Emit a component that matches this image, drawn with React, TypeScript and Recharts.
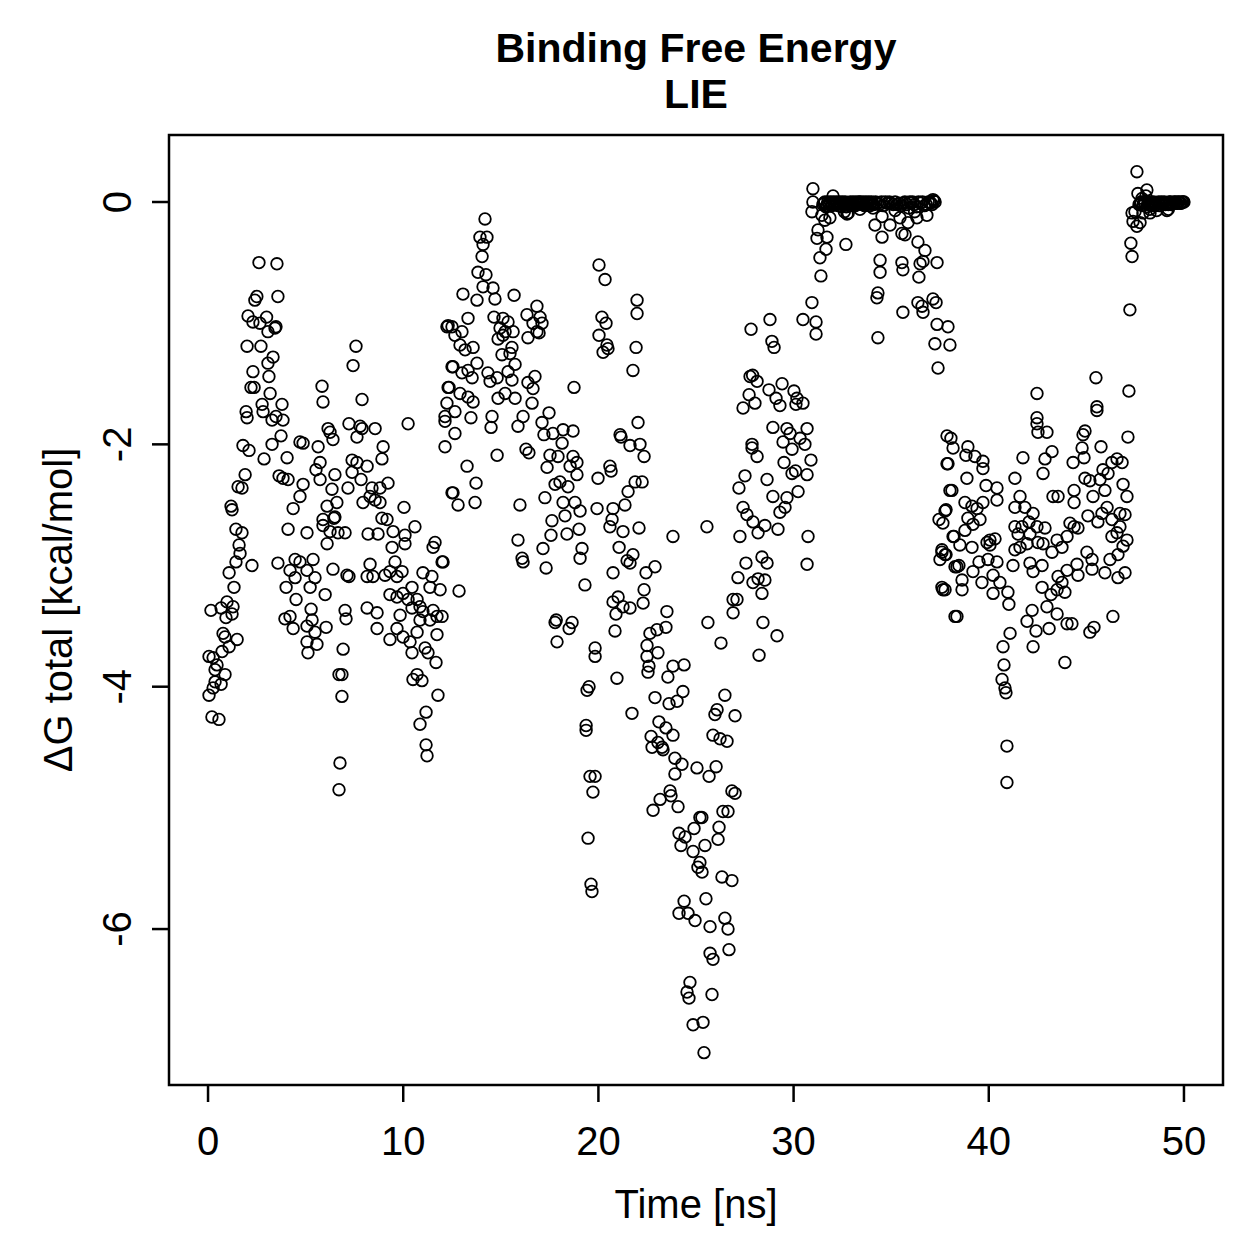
import React from "react";
import { ScatterChart, Scatter, XAxis, YAxis, ReferenceArea } from "recharts";

type Pt = [number, number];

// time [ns], dG total [kcal/mol]
const seg0to12: Pt[] = [
  [0.15,-3.37],[1.23,-2.54],[1.43,-2.7],[1.74,-2.73],[1.59,-2.83],[1.64,-2.9],[1.43,-2.97],[1.08,-3.06],[2.25,-3.0],[1.33,-3.18],
  [0.97,-3.3],[0.67,-3.35],[1.28,-3.34],[1.23,-3.4],[0.92,-3.43],[0.77,-3.56],[0.87,-3.59],[1.49,-3.61],[1.08,-3.67],[0.72,-3.71],
  [0.05,-3.75],[0.26,-3.76],[0.46,-3.82],[0.87,-3.9],[0.36,-3.86],[0.36,-3.96],[0.67,-3.98],[0.26,-4.01],[0.05,-4.07],[0.2,-4.25],[0.56,-4.27],
  [2.61,-0.5],[3.53,-0.51],[2.5,-0.78],[3.58,-0.78],[2.4,-0.81],[2.05,-0.94],[3.0,-0.95],[2.3,-0.99],[2.66,-1.0],[3.43,-1.04],
  [3.07,-1.07],[3.48,-1.03],[2.0,-1.19],[2.71,-1.19],[3.33,-1.28],[3.07,-1.33],[2.3,-1.4],[3.12,-1.44],[2.2,-1.53],[2.36,-1.53],
  [3.18,-1.58],[2.77,-1.67],[3.79,-1.67],[1.95,-1.73],[2.0,-1.78],[2.82,-1.73],[3.28,-1.8],[3.48,-1.77],[3.84,-1.8],[3.74,-1.93],
  [3.28,-2.0],[1.79,-2.01],[2.1,-2.05],[2.87,-2.12],[4.05,-2.11],[1.9,-2.25],[1.54,-2.35],[1.74,-2.36],[1.18,-2.51],[3.64,-2.26],
  [3.84,-2.28],[4.1,-2.29],[4.87,-2.33],[4.71,-2.43],[4.36,-2.53],
  [5.64,-2.02],[5.74,-2.15],[5.53,-2.21],[5.74,-2.29],[6.5,-2.25],[6.35,-2.37],[6.6,-2.48],[6.1,-2.51],[4.71,-1.98],[4.87,-1.99],
  [5.84,-1.52],[5.89,-1.65],[6.15,-1.87],[6.25,-1.9],[6.4,-1.96],[7.58,-1.19],[7.43,-1.35],[7.89,-1.63],[7.22,-1.83],[7.79,-1.85],
  [7.89,-1.87],[7.63,-1.94],[8.56,-1.87],[8.97,-2.02],[8.91,-2.12],[7.38,-2.13],[7.63,-2.15],[8.15,-2.18],[7.38,-2.23],[7.84,-2.29],
  [7.17,-2.36],[9.22,-2.32],[8.4,-2.36],[8.81,-2.36],[8.3,-2.43],[8.56,-2.46],[7.94,-2.48],[8.81,-2.48],[10.04,-2.52],[10.25,-1.83],
  [8.91,-2.61],[9.17,-2.62],[6.5,-2.6],[5.89,-2.62],
  [4.1,-2.7],[5.07,-2.73],[5.89,-2.67],[6.45,-2.61],[6.1,-2.82],[6.25,-2.72],[6.66,-2.73],[7.02,-2.73],[3.58,-2.98],[4.2,-3.04],
  [4.46,-2.95],[4.71,-2.97],[5.38,-2.95],[5.07,-3.04],[4.46,-3.1],[5.48,-3.1],[4.0,-3.18],[5.23,-3.18],[6.4,-3.03],[6.0,-3.24],
  [4.51,-3.28],[7.12,-3.08],[7.22,-3.09],[5.28,-3.36],[7.02,-3.37],[7.07,-3.44],[3.94,-3.44],[4.2,-3.42],[4.36,-3.52],[5.33,-3.45],
  [5.07,-3.5],[5.48,-3.55],[6.05,-3.51],[5.07,-3.63],[5.58,-3.65],[5.12,-3.72],[6.92,-3.69],[6.71,-3.9],[6.86,-3.9],[6.86,-4.08],
  [6.76,-4.63],[6.71,-4.85],
  [8.15,-3.35],[8.66,-3.39],[8.66,-3.52],[8.3,-2.99],[8.2,-2.74],[8.71,-2.74],[9.48,-2.72],[10.09,-2.75],[10.6,-2.68],[10.09,-2.82],
  [9.43,-2.85],[9.58,-2.97],[8.15,-3.09],[8.45,-3.09],[9.07,-3.08],[9.32,-3.05],[9.68,-3.09],[9.94,-3.05],[9.32,-3.24],[9.68,-3.26],
  [9.99,-3.23],[10.45,-3.18],[10.25,-3.28],[10.71,-3.28],[11.01,-3.06],[11.47,-3.09],[11.37,-3.18],[11.63,-2.81],[11.53,-2.85],[11.99,-2.97],
  [12.04,-2.97],[11.89,-3.2],[10.86,-3.34],[10.45,-3.35],[11.01,-3.38],[11.53,-3.37],[11.73,-3.42],[11.99,-3.42],[11.37,-3.45],[10.86,-3.45],
  [9.84,-3.41],[9.32,-3.61],[9.68,-3.52],[9.99,-3.59],[10.35,-3.63],[10.71,-3.55],[10.45,-3.72],[11.12,-3.68],[11.27,-3.72],[11.68,-3.8],
  [11.73,-3.57],[10.71,-3.9],[10.5,-3.94],[10.96,-3.95],[11.78,-4.07],[11.17,-4.21],[10.86,-4.31],[11.17,-4.48],[11.22,-4.57],
];

const seg12to19: Pt[] = [
  [12.24,-1.03],[12.5,-1.03],[12.5,-1.36],[12.3,-1.53],[12.24,-1.66],[12.14,-1.81],[12.14,-2.02],[12.5,-2.4],
  [14.19,-0.14],[13.93,-0.29],[14.29,-0.29],[14.09,-0.35],[14.04,-0.45],[13.83,-0.58],[14.24,-0.6],[14.09,-0.7],[14.6,-0.71],[13.06,-0.76],
  [13.78,-0.81],[14.7,-0.8],[15.68,-0.77],[13.32,-0.96],[14.65,-0.95],[15.11,-0.96],[15.37,-0.99],[16.34,-0.93],[16.85,-0.86],[17.01,-0.95],
  [16.65,-1.0],[17.11,-1.0],[12.3,-1.02],[13.01,-1.07],[12.65,-1.1],[14.96,-1.04],[15.22,-1.07],[15.63,-1.07],[15.11,-1.1],[16.85,-1.07],
  [16.96,-1.08],[16.39,-1.12],[14.86,-1.13],[12.91,-1.18],[13.17,-1.22],[13.58,-1.2],[15.57,-1.2],[15.47,-1.25],[15.06,-1.26],[13.78,-1.33],
  [15.73,-1.34],[12.55,-1.36],[13.32,-1.39],[13.01,-1.41],[13.53,-1.45],[14.34,-1.41],[14.81,-1.45],[14.45,-1.48],[15.37,-1.4],[15.57,-1.47],
  [16.75,-1.44],[16.39,-1.49],[16.65,-1.54],[18.75,-1.53],[12.35,-1.53],[12.91,-1.58],[13.32,-1.61],[13.58,-1.65],[12.65,-1.73],
  [12.14,-1.77],[13.47,-1.78],[14.55,-1.77],[14.86,-1.62],[15.22,-1.58],[15.73,-1.62],[16.6,-1.66],[16.14,-1.77],[17.47,-1.74],[14.5,-1.86],
  [15.88,-1.85],[17.11,-1.82],[17.21,-1.92],[17.67,-1.91],[18.19,-1.88],[18.7,-1.89],[18.14,-1.99],[12.65,-1.91],[14.81,-2.09],
  [16.29,-2.04],[16.44,-2.07],[17.52,-2.09],[17.93,-2.1],[18.7,-2.1],[18.9,-2.15],[13.27,-2.18],[17.37,-2.19],
  [13.73,-2.32],[12.55,-2.4],[12.81,-2.5],[13.68,-2.48],[15.98,-2.5],[15.88,-2.79],[16.09,-2.94],[16.14,-2.97],[17.78,-2.33],[18.03,-2.31],
  [18.44,-2.35],[18.55,-2.18],[18.9,-2.25],[17.26,-2.44],[18.19,-2.48],[18.8,-2.48],[17.62,-2.63],[18.29,-2.59],[18.39,-2.74],[17.57,-2.75],
  [17.16,-2.86],[17.32,-3.02],[12.86,-3.21],[17.78,-3.47],[18.65,-3.47],[18.5,-3.52],[17.88,-3.63],[17.84,-3.45],
];

const seg19to27: Pt[] = [
  [19.06,-2.55],[19.93,-2.53],[20.75,-2.53],[21.36,-2.5],[21.52,-2.39],[21.88,-2.31],[22.24,-2.31],[19.98,-2.28],[20.65,-2.22],[20.59,-2.68],
  [20.7,-2.62],[21.26,-2.72],[22.08,-2.69],[23.82,-2.76],[19.01,-2.7],[19.16,-2.86],[19.06,-2.94],[21.06,-2.85],[21.47,-2.96],[21.77,-2.91],
  [21.62,-2.98],[20.75,-3.06],[22.44,-3.06],[22.9,-3.01],[19.31,-3.16],[22.34,-3.2],[22.29,-3.31],[20.75,-3.3],[21.01,-3.26],[21.26,-3.34],
  [21.62,-3.35],[20.9,-3.4],[23.51,-3.38],[20.85,-3.54],[22.64,-3.56],[23.0,-3.53],[23.46,-3.51],[22.49,-3.66],[23.05,-3.72],[22.49,-3.75],
  [22.59,-3.83],[22.54,-3.88],[19.83,-3.68],[19.83,-3.75],[23.82,-3.83],[24.39,-3.82],[23.56,-3.92],[20.95,-3.93],[19.52,-4.0],[19.42,-4.03],
  [22.9,-4.09],[23.62,-4.14],[24.03,-4.12],[24.33,-4.04],[21.72,-4.22],[19.37,-4.32],[23.1,-4.29],[23.46,-4.34],[23.82,-4.4],[22.7,-4.41],
  [20.59,-2.18],[20.03,-0.52],[20.34,-0.64],[21.98,-0.81],[21.98,-0.92],[20.18,-0.95],[20.39,-1.0],[20.03,-1.1],[20.44,-1.18],[20.24,-1.24],
  [20.49,-1.21],[21.93,-1.2],[21.77,-1.39],[22.03,-1.82],[21.11,-1.92],[21.16,-1.94],[21.62,-2.01],[22.13,-2.0],[22.34,-2.1],
  [19.37,-4.36],[19.57,-4.74],[19.83,-4.74],[19.72,-4.87],[19.47,-5.25],[19.62,-5.63],[19.67,-5.69],[23.05,-4.46],[23.26,-4.5],[22.75,-4.5],
  [23.31,-4.52],[23.92,-4.59],[24.28,-4.64],[23.92,-4.72],[25.05,-4.67],[25.67,-4.74],[26.03,-4.66],[25.87,-4.4],[26.23,-4.43],[26.59,-4.45],
  [26.84,-4.86],[27.0,-4.88],[23.67,-4.86],[23.16,-4.93],[23.72,-4.9],[22.8,-5.02],[24.08,-4.99],[25.2,-5.08],[25.3,-5.08],[26.38,-5.03],
  [26.64,-5.03],[26.18,-5.16],[24.13,-5.21],[24.44,-5.24],[24.9,-5.17],[24.23,-5.31],[25.46,-5.31],[26.13,-5.26],[24.85,-5.36],[25.2,-5.45],
  [25.1,-5.49],[25.31,-5.53],[26.33,-5.57],[26.84,-5.6],[24.39,-5.77],[25.51,-5.75],[24.13,-5.87],[24.59,-5.87],[24.95,-5.93],[25.72,-5.98],
  [26.48,-5.91],[26.64,-6.0],[25.72,-6.2],[25.87,-6.25],[26.69,-6.17],[24.69,-6.44],[24.54,-6.52],[24.64,-6.57],[25.82,-6.54],[24.85,-6.79],
  [25.36,-6.77],[25.41,-7.02],
  [25.56,-2.68],[25.61,-3.47],[26.28,-3.64],[26.48,-4.07],[26.08,-4.19],[25.97,-4.23],[27.0,-4.24],
];

const seg27to38: Pt[] = [
  [30.99,0.11],[32.02,0.05],[30.99,0.0],[30.94,-0.08],[31.45,-0.11],[31.86,-0.13],[31.6,-0.15],[31.25,-0.23],[31.2,-0.3],[31.71,-0.29],
  [31.66,-0.39],[31.35,-0.46],[31.4,-0.61],[32.68,-0.35],[32.74,-0.1],[34.07,-0.05],[34.17,-0.19],[34.53,-0.12],[34.53,-0.29],[34.43,-0.48],
  [34.43,-0.58],[34.94,-0.19],[35.45,-0.13],[35.86,-0.17],[35.55,-0.26],[35.71,-0.27],[36.37,-0.33],[36.73,-0.4],[36.63,-0.49],[36.48,-0.51],
  [37.35,-0.5],[36.42,-0.62],[35.55,-0.5],[35.6,-0.56],[36.99,0.0],[37.14,0.02],[36.83,-0.11],[36.32,-0.13],[34.32,-0.75],[34.27,-0.79],
  [35.6,-0.91],[36.37,-0.83],[36.58,-0.86],[36.63,-0.91],[37.14,-0.8],[37.3,-0.83],[37.35,-1.01],[37.91,-1.03],[37.24,-1.17],[38.01,-1.18],
  [37.4,-1.37],[34.32,-1.12],[30.94,-0.83],[30.48,-0.97],[31.15,-0.99],[31.15,-1.09],[28.79,-0.97],[27.82,-1.05],[28.89,-1.15],[29.0,-1.2],
  [27.77,-1.44],[27.9,-1.43],[28.13,-1.48],[28.74,-1.55],[27.72,-1.59],[27.41,-1.7],[28.02,-1.66],[29.41,-1.5],[29.1,-1.62],[29.3,-1.68],
  [30.02,-1.56],[30.17,-1.62],[30.48,-1.66],[30.12,-1.67],[28.94,-1.86],[29.66,-1.87],[29.82,-1.91],[30.69,-1.87],[30.33,-1.95],[29.46,-1.98],
  [27.87,-2.0],[27.87,-2.03],[28.13,-2.1],[29.92,-2.04],[30.58,-2.0],[29.51,-2.15],[30.89,-2.13],[29.92,-2.24],[30.1,-2.22],[30.69,-2.25],
  [27.51,-2.26],[28.64,-2.29],[27.2,-2.36],[30.23,-2.39],[28.94,-2.43],[29.66,-2.44],[29.56,-2.52],[29.3,-2.56],[27.41,-2.52],[27.61,-2.58],
  [27.92,-2.64],[28.53,-2.67],[28.18,-2.73],[29.2,-2.7],[27.25,-2.76],[30.74,-2.76],[30.69,-2.99],[28.38,-2.93],[28.64,-2.98],[27.56,-2.98],
  [27.15,-3.1],[27.92,-3.14],[28.18,-3.11],[28.53,-3.12],[28.38,-3.23],[26.9,-3.28],[27.1,-3.28],[26.9,-3.39],[28.43,-3.47],[29.15,-3.58],
  [28.23,-3.74],
];

// the flat run of frames sitting at about zero
const plateau31to37: Pt[] = [
  [31.5,-0.02],[31.6,0.0],[31.7,-0.03],[31.8,-0.01],[31.9,0.0],[32.0,-0.02],[32.1,-0.01],[32.2,0.0],[32.3,-0.03],[32.4,-0.01],
  [32.5,0.0],[32.6,-0.02],[32.7,-0.04],[32.8,-0.01],[32.9,0.0],[33.0,-0.01],[33.1,-0.02],[33.2,0.0],[33.3,-0.01],[33.4,0.0],
  [33.5,-0.02],[33.6,-0.01],[33.7,0.0],[33.8,-0.01],[33.9,-0.03],[34.0,0.0],[34.1,-0.02],[34.3,-0.01],[34.5,0.0],[34.6,-0.03],
  [34.8,-0.01],[34.9,0.0],[35.1,-0.02],[35.2,0.0],[35.4,-0.01],[35.5,-0.03],[35.7,0.0],[35.8,-0.02],[36.0,-0.01],[36.1,0.0],
  [36.3,-0.04],[36.5,-0.01],[36.6,0.0],[36.8,-0.02],[37.0,-0.01],[37.2,0.01],
  [31.55,-0.01],[31.65,-0.04],[31.75,0.0],[31.85,-0.02],[31.95,-0.03],[32.05,0.0],[32.15,-0.02],[32.25,-0.01],[32.35,0.0],[32.45,-0.04],
  [32.55,-0.01],[32.65,0.0],[32.75,-0.02],[32.85,-0.03],[32.95,-0.01],[33.05,0.0],[33.15,-0.03],[33.25,-0.02],[33.35,0.0],[33.45,-0.01],
  [33.55,0.0],[33.65,-0.03],[33.75,-0.02],[33.85,0.0],[33.95,-0.01],[34.05,-0.02],[34.2,0.0],[34.4,-0.02],[34.7,0.0],[35.0,-0.01],
  [35.3,-0.02],[35.6,-0.01],[35.95,0.0],[36.2,-0.02],[36.4,0.0],[36.7,-0.03],[36.9,0.0],[37.1,-0.02],[37.25,0.0],
  [32.6,-0.08],[32.8,-0.09],[33.4,-0.06],[35.2,-0.07],[35.9,-0.05],[36.2,-0.08],
];

const seg38to50: Pt[] = [
  [37.91,-2.16],[38.11,-2.38],[37.76,-2.55],[37.45,-2.62],[37.65,-2.65],[38.17,-2.76],[37.6,-2.89],[37.76,-2.91],[37.5,-2.95],[38.37,-3.01],
  [37.6,-3.18],[37.76,-3.2],[38.27,-3.42],
  [47.59,0.25],[47.64,0.07],[48.1,0.1],[47.34,-0.09],[47.49,-0.08],[47.9,-0.09],[48.26,-0.09],[47.39,-0.16],[47.59,-0.2],[47.75,-0.17],
  [47.28,-0.34],[47.34,-0.45],[47.23,-0.89],[49.13,-0.07],[42.47,-1.58],[45.49,-1.45],[45.54,-1.69],[47.18,-1.56],[42.47,-1.78],
  [42.47,-1.83],[42.52,-1.9],[42.98,-1.9],[37.86,-1.93],[38.06,-1.95],[38.17,-2.03],[38.93,-2.02],[38.83,-2.09],[39.29,-2.1],[39.7,-2.14],
  [39.7,-2.2],[37.86,-2.16],[38.88,-2.28],[39.86,-2.34],[40.42,-2.36],[38.01,-2.38],[40.42,-2.46],[39.7,-2.48],[38.78,-2.48],[39.14,-2.51],
  [39.4,-2.53],[37.81,-2.54],[38.93,-2.61],[39.55,-2.62],[39.19,-2.66],[38.78,-2.71],[38.22,-2.76],[38.52,-2.83],[39.14,-2.85],[37.6,-2.87],
  [37.81,-2.91],[39.91,-2.81],[40.06,-2.79],[40.32,-2.78],[40.06,-2.83],[39.96,-2.95],[40.42,-2.97],[39.5,-2.97],[39.19,-3.05],[38.47,-3.0],
  [38.27,-3.01],[39.65,-3.14],[40.22,-3.08],[40.57,-3.14],[38.63,-3.12],[38.63,-3.2],[37.65,-3.2],[40.22,-3.23],[40.98,-3.22],[41.03,-3.32],
  [38.37,-3.42],[41.09,-3.56],[40.73,-3.67],[40.78,-3.82],[40.68,-3.94],[40.83,-4.01],[41.75,-2.11],[41.34,-2.28],[41.6,-2.43],[41.34,-2.52],
  [41.85,-2.52],[42.06,-2.64],[41.34,-2.68],[41.7,-2.68],[41.5,-2.74],[42.11,-2.74],[41.34,-2.87],[41.6,-2.85],[41.96,-2.82],[41.24,-3.0],
  [42.11,-2.98],[42.27,-3.05],[42.73,-3.0],[42.52,-2.81],[42.78,-2.82],[42.88,-2.69],[43.24,-2.89],[42.73,-3.18],[43.19,-3.24],[42.98,-3.34],
  [43.5,-3.2],[43.75,-3.14],[43.55,-3.09],[42.22,-3.37],[41.96,-3.46],[42.42,-3.54],[43.09,-3.52],[42.27,-3.67],[43.5,-3.4],[44.01,-3.48],
  [44.26,-3.48],[43.9,-3.8],[42.88,-2.12],[42.78,-2.24],[43.24,-2.06],[43.29,-2.43],[43.55,-2.43],[44.37,-2.38],[44.37,-2.48],[45.08,-2.59],
  [45.59,-2.64],[44.78,-2.03],[44.88,-2.11],[44.32,-2.15],[44.83,-1.92],[44.93,-1.89],[45.75,-2.02],[47.13,-1.94],[46.57,-2.12],[46.83,-2.15],
  [46.31,-2.15],[45.85,-2.21],[46.11,-2.24],[44.93,-2.28],[45.18,-2.3],[45.7,-2.29],[45.95,-2.38],[45.34,-2.43],[46.88,-2.33],[47.08,-2.43],
  [46.06,-2.52],[45.8,-2.57],[46.72,-2.57],[46.98,-2.58],[46.31,-2.62],[46.72,-2.68],[46.31,-2.76],[46.57,-2.73],[47.08,-2.79],[46.88,-2.84],
  [46.62,-2.91],[46.21,-2.95],[45.95,-3.06],[46.62,-3.1],[46.98,-3.06],[45.03,-2.89],[45.29,-2.95],[45.29,-3.03],[44.52,-2.99],[44.57,-3.08],
  [44.01,-3.04],[43.9,-3.22],[46.36,-3.42],[45.18,-3.55],[45.39,-3.51],[44.37,-2.68],[44.16,-2.65],[44.57,-2.69],[44.01,-2.76],[43.5,-2.79],
  [43.75,-2.85],[42.27,-2.57],[42.47,-2.68],[45.54,-1.72],[40.88,-4.05],[40.93,-4.49],[40.93,-4.79],
];

const plateau47to50: Pt[] = [
  [47.7,-0.02],[47.8,0.0],[47.9,-0.03],[48.0,-0.01],[48.1,-0.04],[48.2,-0.02],[48.3,0.0],[48.4,-0.01],[48.5,-0.03],[48.6,-0.02],
  [48.7,0.0],[48.8,-0.01],[48.9,-0.02],[49.0,0.0],[49.1,-0.01],[49.2,-0.02],[49.3,0.0],[49.4,-0.01],[49.5,0.0],[49.6,-0.01],
  [49.7,0.0],[49.8,-0.01],[49.9,0.0],[50.0,0.0],[48.05,0.05],[48.25,-0.06],[48.6,-0.07],[49.2,-0.06],[47.85,0.03],
  [47.75,-0.01],[47.95,0.0],[48.15,-0.01],[48.35,-0.03],[48.45,0.0],[48.55,-0.01],[48.75,-0.03],[48.85,0.0],[48.95,-0.01],
  [49.05,-0.02],[49.25,0.0],[49.35,-0.02],[49.45,-0.01],[49.55,0.0],[49.65,-0.01],[49.75,0.0],[49.85,-0.01],[49.95,0.0],
];

const xTicks = [0, 10, 20, 30, 40, 50];
const yTicks = [0, -2, -4, -6];

const points = [
  ...seg0to12, ...seg12to19, ...seg19to27, ...seg27to38,
  ...plateau31to37, ...seg38to50, ...plateau47to50,
].map(([t, dg]) => ({ t, dg }));

const FONT = "'Liberation Sans', Arial, Helvetica, sans-serif";

function Ring(props: any) {
  return <circle cx={props.cx} cy={props.cy} r={5.8} fill="none" stroke="#000" strokeWidth={1.8} />;
}

function XTick({ x, payload }: any) {
  return (
    <text x={x} y={1155} textAnchor="middle" fontSize={40} fontFamily={FONT} fill="#000">
      {payload.value}
    </text>
  );
}

function YTick({ y, payload }: any) {
  return (
    <text x={131} y={y} transform={`rotate(-90, 131, ${y})`} textAnchor="middle" fontSize={40} fontFamily={FONT} fill="#000">
      {payload.value}
    </text>
  );
}

export default function App() {
  return (
    <div style={{ position: "absolute", left: 0, top: 0, width: 1259, height: 1259, background: "#fff" }}>
      <ScatterChart width={1259} height={1259} margin={{ top: 135, right: 36, bottom: 0, left: 0 }}>
        <XAxis
          dataKey="t"
          type="number"
          domain={[-2, 52]}
          ticks={xTicks}
          height={174}
          axisLine={false}
          tickSize={17}
          tickLine={{ stroke: "#000", strokeWidth: 2.5 }}
          tick={<XTick />}
          interval={0}
        />
        <YAxis
          dataKey="dg"
          type="number"
          domain={[-7.287, 0.553]}
          ticks={yTicks}
          width={169}
          axisLine={false}
          tickSize={17}
          tickLine={{ stroke: "#000", strokeWidth: 2.5 }}
          tick={<YTick />}
          interval={0}
        />
        <ReferenceArea x1={-2} x2={52} y1={-7.287} y2={0.553} fill="none" stroke="#000" strokeWidth={2.5} fillOpacity={0} />
        <Scatter data={points} shape={<Ring />} isAnimationActive={false} />
      </ScatterChart>
      <svg width={1259} height={1259} style={{ position: "absolute", left: 0, top: 0, pointerEvents: "none" }}>
        <text x={696} y={62} textAnchor="middle" fontSize={41} fontWeight="bold" fontFamily={FONT}>
          Binding Free Energy
        </text>
        <text x={696} y={108} textAnchor="middle" fontSize={41} fontWeight="bold" fontFamily={FONT}>
          LIE
        </text>
        <text x={696} y={1218} textAnchor="middle" fontSize={40} fontFamily={FONT}>
          Time [ns]
        </text>
        <text x={72} y={610} transform="rotate(-90, 72, 610)" textAnchor="middle" fontSize={40} fontFamily={FONT}>
          ΔG total [kcal/mol]
        </text>
      </svg>
    </div>
  );
}
